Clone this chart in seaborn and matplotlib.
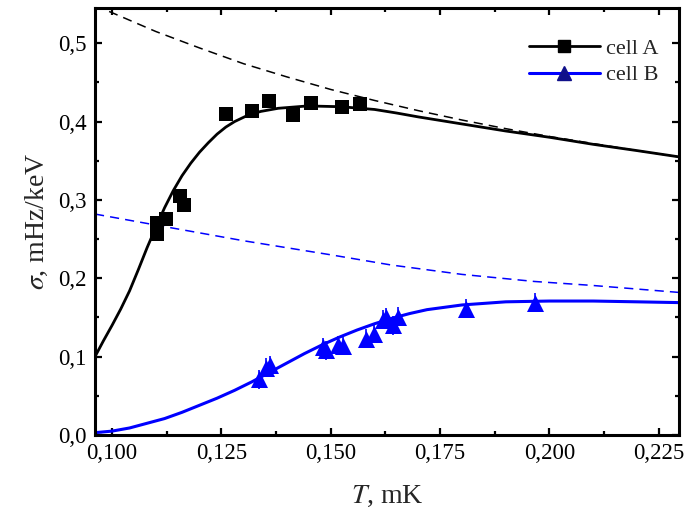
import numpy as np
import pandas as pd
import matplotlib
matplotlib.use("Agg")
import matplotlib.pyplot as plt
from matplotlib.ticker import MultipleLocator, FuncFormatter
from matplotlib.lines import Line2D
import seaborn as sns

# measured points, cell A (squares)
T_a = [0.1103, 0.1103, 0.1124, 0.1156, 0.1165, 0.1261, 0.1319, 0.1358, 0.1413, 0.1454, 0.1525, 0.1567]
s_a = [0.270, 0.256, 0.276, 0.305, 0.294, 0.410, 0.414, 0.426, 0.408, 0.424, 0.419, 0.422]

# measured points, cell B (triangles)
T_b = [0.1335, 0.1351, 0.1360, 0.1482, 0.1489, 0.1516, 0.1528, 0.1580, 0.1599,
       0.1619, 0.1626, 0.1642, 0.1654, 0.1810, 0.1966]
s_b = [0.071, 0.086, 0.089, 0.112, 0.108, 0.115, 0.114, 0.123, 0.129,
       0.147, 0.150, 0.140, 0.151, 0.161, 0.169]
err_b = [0.012] * len(T_b)

# fit curves
fitA_T = [0.0961, 0.098, 0.100, 0.102, 0.104, 0.106, 0.108, 0.110, 0.112, 0.114,
          0.116, 0.118, 0.120, 0.122, 0.124, 0.126, 0.128, 0.131, 0.134, 0.138,
          0.1447, 0.1523, 0.160, 0.165, 0.170, 0.180, 0.190, 0.200, 0.210, 0.220, 0.2296]
fitA_s = [0.100, 0.120, 0.140, 0.161, 0.184, 0.211, 0.239, 0.265, 0.290, 0.312,
          0.331, 0.347, 0.361, 0.373, 0.384, 0.393, 0.400, 0.408, 0.413, 0.417,
          0.420, 0.419, 0.4155, 0.411, 0.406, 0.397, 0.388, 0.380, 0.371, 0.363, 0.355]

fitB_T = [0.0961, 0.100, 0.104, 0.108, 0.112, 0.116, 0.120, 0.124, 0.128, 0.132,
          0.136, 0.140, 0.144, 0.148, 0.152, 0.156, 0.160, 0.164, 0.168, 0.172,
          0.176, 0.180, 0.185, 0.190, 0.200, 0.210, 0.220, 0.2296]
fitB_s = [0.003, 0.005, 0.009, 0.015, 0.021, 0.029, 0.038, 0.047, 0.057, 0.068,
          0.080, 0.092, 0.104, 0.115, 0.125, 0.134, 0.142, 0.149, 0.155, 0.160,
          0.163, 0.166, 0.168, 0.170, 0.171, 0.171, 0.170, 0.169]

dashA_T = [0.0961, 0.100, 0.110, 0.120, 0.130, 0.140, 0.150, 0.160, 0.170, 0.180,
           0.190, 0.200, 0.210, 0.220, 0.2296]
dashA_s = [0.548, 0.539, 0.515, 0.494, 0.474, 0.457, 0.441, 0.427, 0.414, 0.402,
           0.391, 0.381, 0.372, 0.363, 0.355]

dashB_T = [0.0961, 0.110, 0.120, 0.130, 0.140, 0.150, 0.1638, 0.180, 0.1965, 0.2096, 0.2296]
dashB_s = [0.282, 0.268, 0.258, 0.248, 0.239, 0.230, 0.217, 0.205, 0.196, 0.191, 0.182]

sns.set_style("ticks")
plt.rcParams['font.family'] = ['Liberation Serif', 'DejaVu Serif']
plt.rcParams['mathtext.fontset'] = 'stix'

fig = plt.figure(figsize=(6.85, 5.19), dpi=100)
ax = fig.add_axes([0.1387, 0.1618, 0.8525, 0.8228])

blue = "#0000ff"

sns.lineplot(x=dashA_T, y=dashA_s, ax=ax, color="black", lw=1.1, sort=False)
ax.lines[-1].set_dashes([6, 4])
sns.lineplot(x=dashB_T, y=dashB_s, ax=ax, color=blue, lw=1.1, sort=False)
ax.lines[-1].set_dashes([6, 4])
sns.lineplot(x=fitA_T, y=fitA_s, ax=ax, color="black", lw=2.0, sort=False)
sns.lineplot(x=fitB_T, y=fitB_s, ax=ax, color=blue, lw=2.2, sort=False)

ax.errorbar(T_b, s_b, yerr=err_b, fmt="none", ecolor=blue, elinewidth=1.2, zorder=3)
sns.scatterplot(x=T_a, y=s_a, ax=ax, marker="s", s=115, color="black", edgecolor="black",
                linewidth=0, zorder=4)
sns.scatterplot(x=T_b, y=s_b, ax=ax, marker="^", s=150, color=blue, edgecolor=blue,
                linewidth=0, zorder=4)

ax.set_xlim(0.0961, 0.2296)
ax.set_ylim(0, 0.545)

ax.xaxis.set_major_locator(MultipleLocator(0.025))
ax.xaxis.set_minor_locator(MultipleLocator(0.0125))
ax.yaxis.set_major_locator(MultipleLocator(0.1))
ax.yaxis.set_minor_locator(MultipleLocator(0.05))
ax.xaxis.set_major_formatter(FuncFormatter(lambda v, p: f"{v:.3f}".replace(".", ",")))
ax.yaxis.set_major_formatter(FuncFormatter(lambda v, p: f"{v:.1f}".replace(".", ",")))

ax.tick_params(which="both", direction="in", top=True, right=True, width=1.6,
               labelsize=16.5, colors="black")
ax.tick_params(which="major", length=5, pad=6)
ax.tick_params(which="minor", length=3)
for sp in ax.spines.values():
    sp.set_linewidth(2.2)
    sp.set_color("black")

ax.set_xlabel("$T$, mK", fontsize=20, labelpad=14)
ax.set_ylabel(r"$\sigma$, mHz/keV", fontsize=20, labelpad=6)

handles = [
    Line2D([], [], color="black", lw=2.0, marker="s", markersize=9),
    Line2D([], [], color=blue, lw=2.2, marker="^", markersize=10, markerfacecolor="#10108a",
           markeredgecolor="#10108a"),
]
ax.legend(handles, ["cell A", "cell B"], loc="upper right", bbox_to_anchor=(1.0, 0.975),
          frameon=False, fontsize=16, handlelength=3.2, handletextpad=0.3, labelspacing=0.25)

fig.savefig("out.png", dpi=100)
